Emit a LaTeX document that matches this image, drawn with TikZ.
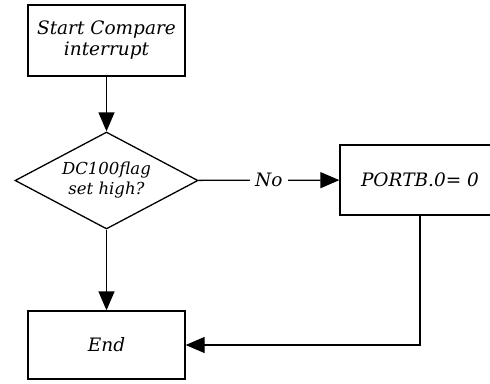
\documentclass[tikz,border=0pt]{standalone}
\usepackage{fontspec}
\setmainfont{DejaVu Serif}
\usetikzlibrary{arrows.meta}
\usetikzlibrary{positioning}
\usetikzlibrary{shapes.geometric}

\begin{document}
\begin{tikzpicture}[
		x=1pt, y=-1pt,
		->,
		>={Triangle[width=16pt,length=19pt]},
		line width=1.3pt,
		main node/.style={font=\itshape\fontsize{18.5}{21}\selectfont, align=center}
		,
		box node/.style={
			main node,
			rectangle,
			draw,
			minimum width=157pt,
			minimum height=71pt
		}
		,
		decision node/.style={
			main node,
			font=\itshape\fontsize{16.5}{20}\selectfont,
			diamond,
			draw,
			inner sep=0pt,
			aspect=1.9,
			minimum width=183pt,
			minimum height=97pt
		}
		]
		\useasboundingbox (0,0) rectangle (490,383);
		
		\node[box node] (start) at (106.5,40.5) {Start Compare\\interrupt};
		\node[decision node] (flag) at (106.5,180.5) {DC100flag\\set high?};
		\node[box node, minimum width=160pt, minimum height=70pt] (port) at (420,180) {PORTB.0= 0};
		\node[box node, minimum height=68pt] (stop) at (106.5,345) {End};
		
		\path
		(start) edge (flag)
		(flag) edge (stop)
		(flag) edge node[main node, fill=white, inner xsep=5pt] {No} (port);
		\draw (port.south) |- (stop.east);
	\end{tikzpicture}
\end{document}
